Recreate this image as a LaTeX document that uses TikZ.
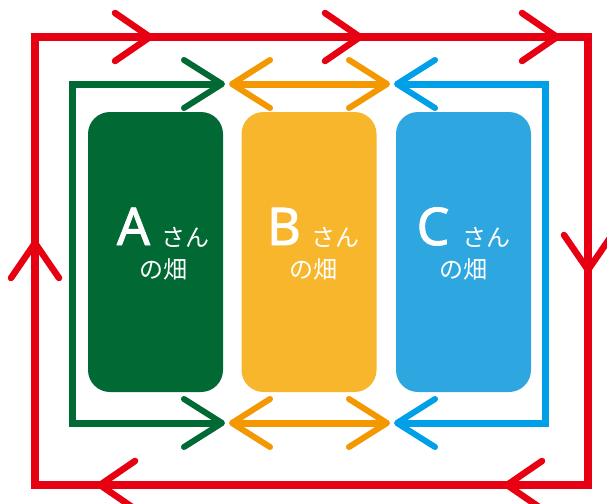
\documentclass[tikz,border=0pt]{standalone}
\usepackage{fontspec}
\setmainfont{Noto Sans CJK JP}
\newfontfamily\letterfont[FakeBold=1.6]{Noto Sans}
\definecolor{rd}{HTML}{E60012}
\definecolor{gbox}{HTML}{006934}
\definecolor{obox}{HTML}{F8B62D}
\definecolor{oarr}{HTML}{F39800}
\definecolor{bbox}{HTML}{2EA7E0}
\definecolor{barr}{HTML}{00A0E9}
\begin{document}
\begin{tikzpicture}[x=1pt,y=-1pt,
  farm/.style={rounded corners=22pt, minimum width=135pt, minimum height=280pt, inner sep=0pt, draw=none},
  chev/.pic={\draw[line cap=round,line join=round,line width=6pt] (-38,24) -- (0,0) -- (-38,-24);},
  rchev/.pic={\draw[line cap=round,line join=round,line width=6.5pt] (-35,24) -- (0,0) -- (-35,-24);},
  big/.style={text=white, font=\letterfont\fontsize{52}{52}\selectfont, inner sep=0pt, anchor=base},
  small/.style={text=white, font=\fontsize{24}{24}\selectfont, inner sep=0pt, anchor=base},
  rline/.style={draw=rd, line width=8pt},
  cline/.style={line width=7pt}]
\useasboundingbox (0,0) rectangle (607,503);

% boxes
\node[farm, fill=gbox] (fa) at (155.5,252) {};
\node[farm, fill=obox] (fb) at (309,252) {};
\node[farm, fill=bbox] (fc) at (463.5,252) {};

% texts
\node[big] (la) at (133.5,245) {A};
\node[small] (sa) at (185,246) {さん};
\node[small] (ha) at (163,278) {の畑};
\node[big] (lb) at (284,245) {B};
\node[small] (sb) at (335,246) {さん};
\node[small] (hb) at (313,278) {の畑};
\node[big] (lc) at (433,245) {C};
\node[small] (sc) at (486.5,246) {さん};
\node[small] (hc) at (463,278) {の畑};

% red loop
\coordinate (r1) at (35,37);
\coordinate (r2) at (588,37);
\coordinate (r3) at (588,485);
\coordinate (r4) at (35,485);
\draw[rline] (r1) -- (r2) -- (r3) -- (r4) -- cycle;
\pic[rd] at (150,37) {rchev};
\pic[rd] at (360,37) {rchev};
\pic[rd] at (557,37) {rchev};
\pic[rd, rotate=-90] at (588,270) {rchev};
\pic[rd, rotate=180] at (507,485) {rchev};
\pic[rd, rotate=180] at (100,485) {rchev};
\pic[rd, rotate=90] at (35,243) {rchev};

% green
\coordinate (gt) at (222,84);
\coordinate (gb) at (222,423);
\draw[cline, gbox] ([xshift=-3pt]gt) -- (72,84) -- (72,423) -- ([xshift=-3pt]gb);
\pic[gbox] at (gt) {chev};
\pic[gbox] at (gb) {chev};

% orange
\coordinate (ot1) at (232,84);
\coordinate (ot2) at (387,84);
\coordinate (ob1) at (232,423);
\coordinate (ob2) at (387,423);
\draw[cline, oarr] ([xshift=3pt]ot1) -- ([xshift=-3pt]ot2);
\draw[cline, oarr] ([xshift=3pt]ob1) -- ([xshift=-3pt]ob2);
\pic[oarr, rotate=180] at (ot1) {chev};
\pic[oarr] at (ot2) {chev};
\pic[oarr, rotate=180] at (ob1) {chev};
\pic[oarr] at (ob2) {chev};

% blue
\coordinate (bt) at (397,84);
\coordinate (bb) at (397,423);
\draw[cline, barr] ([xshift=3pt]bt) -- (545,84) -- (545,423) -- ([xshift=3pt]bb);
\pic[barr, rotate=180] at (bt) {chev};
\pic[barr, rotate=180] at (bb) {chev};
\end{tikzpicture}
\end{document}
